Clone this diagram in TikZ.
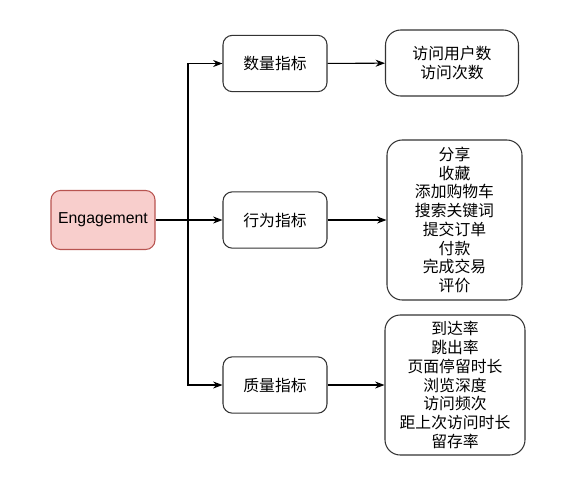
\documentclass[tikz,border=0pt]{standalone}
\usepackage{fontspec}
\setmainfont{Liberation Sans}
\newfontfamily\cjk{Noto Sans CJK SC}
\usepackage{xcolor}
\usetikzlibrary{arrows.meta, positioning, calc}

\definecolor{engfill}{HTML}{F8CECC}
\definecolor{engdraw}{HTML}{B85450}

\begin{document}
\begin{tikzpicture}[
    x=0.03cm, y=-0.03cm,
    root/.style={rectangle, draw=engdraw, fill=engfill, line width=0.9pt, rounded corners=8pt, align=center, minimum width=3.12cm, minimum height=1.77cm, font=\fontsize{13.5}{16}\selectfont},
    kind/.style={rectangle, draw=black!80, fill=white, line width=0.9pt, rounded corners=8pt, align=center, minimum width=3.12cm, minimum height=1.69cm, font=\fontsize{13.5}{16}\selectfont\cjk},
    items/.style={rectangle, draw=black!80, fill=white, line width=0.9pt, rounded corners=13pt, align=center, inner sep=2pt, font=\fontsize{13.5}{16}\selectfont\cjk},
    arr/.style={-{Stealth[length=8pt, width=6pt]}, line width=0.9pt, color=black}
]
\useasboundingbox (0,0) rectangle (565,495);

\node[root] (eng) at (103,220) {Engagement};

\node[kind] (qty) at (275,63.5) {数量指标};
\node[kind] (beh) at (275,220) {行为指标};
\node[kind] (qual) at (275,385) {质量指标};

\node[items, minimum width=3.99cm, minimum height=1.98cm] (qtylist) at (452,63) {访问用户数\\访问次数};
\node[items, minimum width=4.05cm, minimum height=4.8cm] (behlist) at (454.5,220) {分享\\收藏\\添加购物车\\搜索关键词\\提交订单\\付款\\完成交易\\评价};
\node[items, minimum width=4.2cm, minimum height=4.2cm] (quallist) at (455,385) {到达率\\跳出率\\页面停留时长\\浏览深度\\访问频次\\距上次访问时长\\留存率};

\coordinate (split) at (188,220);

\draw[arr] (eng) -- (beh);
\draw[arr] (split) |- (qty);
\draw[arr] (split) |- (qual);

\draw[arr] (qty) -- (qtylist);
\draw[arr] (beh) -- (behlist);
\draw[arr] (qual) -- (quallist);

\end{tikzpicture}
\end{document}
